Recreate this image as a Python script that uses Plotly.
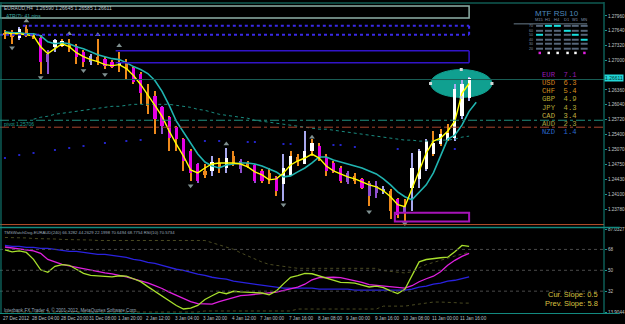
import plotly.graph_objects as go

# ---------------- DATA ----------------
idx = list(range(66))
opens = [1.27595,1.27595,1.27488,1.27681,1.27553,1.27488,1.26973,1.27295,1.27316,1.27359,
         1.27316,1.27188,1.27102,1.27080,1.27037,1.26973,1.26930,1.26930,1.26844,1.26715,
         1.26286,1.26221,1.25985,1.25771,1.25556,1.25298,1.25041,1.24761,1.24611,1.24611,
         1.24783,1.24675,1.24933,1.24826,1.24783,1.24740,1.24611,1.24568,1.24482,1.24332,
         1.24504,1.24912,1.24761,1.25041,1.25148,1.24912,1.24783,1.24675,1.24568,1.24504,
         1.24439,1.24353,1.24289,1.24225,1.24182,1.24010,1.23860,1.24246,1.24439,1.24654,
         1.24976,1.25191,1.25277,1.25320,1.25792,1.26178]
highs = [1.27660,1.27660,1.27724,1.27767,1.27574,1.27553,1.27230,1.27467,1.27467,1.27467,
         1.27359,1.27230,1.27145,1.27467,1.27080,1.27016,1.27188,1.27037,1.26865,1.26758,
         1.26479,1.26329,1.26007,1.25792,1.25577,1.25320,1.25083,1.24783,1.24761,1.24933,
         1.24890,1.25105,1.25041,1.24869,1.24826,1.24761,1.24654,1.24675,1.24504,1.24976,
         1.25041,1.24976,1.25470,1.25298,1.25212,1.24976,1.24826,1.24718,1.24611,1.24568,
         1.24461,1.24396,1.24396,1.24289,1.24225,1.24031,1.24010,1.24998,1.25083,1.25298,
         1.25470,1.25513,1.25620,1.26479,1.26608,1.26645]
lows = [1.27467,1.27359,1.27445,1.27510,1.27467,1.26715,1.26715,1.27188,1.27295,1.27188,
        1.26930,1.26865,1.26908,1.26908,1.26823,1.26844,1.26758,1.26586,1.26500,1.26050,
        1.25835,1.25406,1.25406,1.25041,1.25041,1.24611,1.24396,1.24353,1.24461,1.24504,
        1.24568,1.24568,1.24718,1.24568,1.24675,1.24353,1.24353,1.24332,1.24074,1.23967,
        1.24504,1.24718,1.24761,1.24933,1.24826,1.24504,1.24568,1.24353,1.24332,1.24332,
        1.24225,1.23860,1.24031,1.24117,1.23581,1.23602,1.23538,1.23752,1.24246,1.24611,
        1.24933,1.25148,1.25255,1.25255,1.25728,1.26114]
closes = [1.27553,1.27510,1.27681,1.27553,1.27488,1.26973,1.27145,1.27445,1.27424,1.27273,
          1.27080,1.26973,1.26973,1.26973,1.26887,1.26865,1.26908,1.26801,1.26543,1.26286,
          1.26007,1.25728,1.25577,1.25320,1.25298,1.24826,1.24568,1.24396,1.24525,1.24804,
          1.24675,1.24890,1.24783,1.24654,1.24718,1.24396,1.24396,1.24439,1.24182,1.24675,
          1.24933,1.24826,1.25041,1.25212,1.24890,1.24611,1.24590,1.24396,1.24375,1.24396,
          1.24246,1.24074,1.24139,1.24160,1.23752,1.23666,1.23709,1.24675,1.25041,1.25255,
          1.25212,1.25406,1.25427,1.26372,1.26500,1.26611]
body_codes = "oowoompwwo" "mmlommwomm" "ommmmmmmow" "owopommomw" "wowwmmmmpo" "mpplompwww" "wwwwww"
wick_codes = "ooloooploo" "oolooooooo" "oopoooopol" "olopopoool" "oolooooopo" "ooplooolll" "ooolll"

fast_ma = [1.27595,1.27574,1.27574,1.27553,1.27531,1.27295,1.27145,1.27252,1.27359,1.27295,
           1.27166,1.27080,1.27016,1.26973,1.26908,1.26887,1.26908,1.26823,1.26672,1.26479,
           1.26264,1.26028,1.25792,1.25470,1.25191,1.24933,1.24633,1.24568,1.24675,1.24761,
           1.24783,1.24783,1.24783,1.24761,1.24697,1.24590,1.24525,1.24418,1.24439,1.24568,
           1.24740,1.24826,1.24890,1.24976,1.24890,1.24718,1.24611,1.24547,1.24482,1.24439,
           1.24375,1.24311,1.24268,1.24182,1.24053,1.23881,1.23838,1.24225,1.24654,1.24998,
           1.25255,1.25320,1.25470,1.25685,1.26286,1.26500]
slow_ma = [1.27617,1.27595,1.27595,1.27574,1.27574,1.27531,1.27402,1.27359,1.27381,1.27359,
           1.27295,1.27252,1.27188,1.27123,1.27080,1.27037,1.27016,1.26951,1.26865,1.26801,
           1.26715,1.26565,1.26329,1.26028,1.25685,1.25448,1.25212,1.24976,1.24804,1.24718,
           1.24675,1.24740,1.24761,1.24783,1.24783,1.24761,1.24718,1.24654,1.24590,1.24482,
           1.24504,1.24590,1.24675,1.24783,1.24912,1.24912,1.24847,1.24804,1.24761,1.24718,
           1.24675,1.24611,1.24547,1.24439,1.24311,1.24160,1.24053,1.23988,1.24139,1.24311,
           1.24568,1.24933,1.25298,1.25384,1.25599,1.25899,1.26093]
long_ma_start = 4
long_ma = [1.25728,1.25771,1.25792,1.25835,1.25856,1.25878,1.25899,1.25921,1.25942,1.25964,
           1.25985,1.26007,1.26007,1.26028,1.26050,1.26050,1.26050,1.26050,1.26050,1.26050,
           1.26028,1.26007,1.25985,1.25942,1.25921,1.25878,1.25835,1.25813,1.25792,1.25771,
           1.25749,1.25706,1.25685,1.25663,1.25642,1.25620,1.25599,1.25577,1.25556,1.25534,
           1.25513,1.25513,1.25491,1.25470,1.25448,1.25427,1.25406,1.25384,1.25363,1.25341,
           1.25320,1.25298,1.25277,1.25277,1.25255,1.25255,1.25255,1.25277,1.25277,1.25298,
           1.25341,1.25363]
dots_idx = [0,2,4,7,9,11,14,17,19,28,30,34,35,39,40,46,47,49,55,63]
dots_val = [1.24890,1.24955,1.24998,1.25062,1.25105,1.25148,1.25212,1.25255,1.25277,1.25255,
            1.25255,1.25234,1.25234,1.25191,1.25191,1.25169,1.25169,1.25126,1.25083,1.25083]

frac_up_idx = [3,9,13,16,31,43]
frac_up_val = [1.27853,1.27574,1.27553,1.27316,1.25191,1.25341]
frac_dn_idx = [1,5,11,14,26,39,51,56]
frac_dn_val = [1.27273,1.26629,1.26780,1.26694,1.24289,1.23881,1.23731,1.23474]

price_ticks = [1.27960,1.27640,1.27320,1.27000,1.26360,1.26040,1.25720,
               1.25400,1.25070,1.24750,1.24430,1.24100,1.23780]
time_idx = [0,4,8,12,16,20,24,28,32,36,40,44,48,52,56,60,64]
time_labels = ["27 Dec 2012","28 Dec 04:00","28 Dec 20:00","31 Dec 08:00","1 Jan 20:00",
               "2 Jan 12:00","3 Jan 04:00","3 Jan 20:00","4 Jan 12:00","7 Jan 00:00",
               "7 Jan 16:00","8 Jan 08:00","9 Jan 00:00","9 Jan 16:00","10 Jan 08:00",
               "11 Jan 00:00","11 Jan 16:00"]

# levels / boxes (price)
top_box = [1.27917, 1.28175]
dotted_box = [1.27553, 1.27746]
solid_box = [1.26951, 1.27209]
magenta_box = [1.23516, 1.23709]
pivot_level = 1.25706
red_level = 1.25556
bid_level = 1.26586
low_level = 1.23452
ellipse = [59.6, 68.2, 1.26200, 1.26801]

# lower indicator
ind_blue = [71.4,70.6,70.6,69.7,69.7,68.9,68.9,68.0,67.1,66.3,66.3,65.4,64.6,63.7,63.7,62.9,62.0,61.1,59.4,58.6,
            56.9,56.0,54.3,52.6,50.9,50.0,48.3,46.6,45.7,44.0,43.1,42.3,40.6,39.7,38.9,38.0,37.1,36.3,35.4,34.6,
            34.6,34.6,34.6,34.6,33.7,33.7,33.7,33.7,33.7,32.9,32.9,32.9,32.9,32.9,32.9,32.9,32.9,33.7,35.4,36.3,
            38.0,38.9,40.6,41.4,43.1,44.3]
ind_magenta = [70.1,69.3,68.6,67.7,66.7,64.6,59.4,57.3,55.1,53.9,52.7,51.5,50.0,48.5,47.7,47.0,46.0,44.4,42.6,40.9,
               39.1,36.7,34.3,31.1,28.3,25.4,23.0,21.2,20.9,20.9,23.0,24.7,26.4,28.1,28.6,29.4,30.0,30.5,31.1,32.6,
               33.7,35.4,38.0,41.8,43.7,44.0,44.0,43.7,42.3,41.4,39.5,37.6,36.9,36.3,35.8,35.4,34.6,36.7,40.1,42.7,
               44.9,48.7,54.3,58.6,62.0,64.6]
ind_rsi = [67.6,65.9,66.7,65.4,59.4,50.4,48.3,53.4,54.9,54.3,50.9,47.3,45.7,45.1,44.4,44.4,45.3,44.9,42.7,40.2,
           35.9,31.7,28.1,23.6,19.6,16.6,17.4,19.7,24.8,28.0,31.1,29.8,31.9,31.4,31.1,30.6,30.4,28.9,32.2,38.3,
           44.0,45.3,47.4,47.0,45.2,43.3,41.3,39.6,39.3,38.9,37.3,35.6,36.3,35.1,32.2,29.9,33.6,45.3,57.3,59.3,
           60.3,60.8,61.3,65.9,71.4,70.6]
ind_upper = [78.3,78.3,77.9,77.9,77.4,77.4,77.0,77.0,76.6,76.6,76.6,76.1,76.1,75.7,75.7,75.7,75.7,75.7,75.7,75.7,
             75.7,75.7,75.7,75.7,75.7,75.7,75.7,76.1,75.7,73.8,71.9,70.1,68.1,65.1,62.4,59.8,57.1,55.1,54.1,53.4,
             52.6,51.7,51.7,51.7,51.7,51.7,51.7,51.7,51.7,51.7,51.7,51.7,51.7,49.7,49.1,48.4,47.7,48.7,52.3,54.9,
             56.9,58.6,60.3,62.3,64.0,65.4]
ind_lower = [14.0,14.0,14.0,14.0,14.0,14.0,14.0,14.0,14.0,14.0,14.0,14.0,14.0,14.0,14.0,14.0,14.0,14.0,14.0,14.0,
             14.0,14.0,14.0,14.0,14.0,14.0,14.0,14.0,14.9,14.9,14.9,14.9,14.9,14.9,14.9,14.9,14.9,14.9,14.9,14.9,
             14.9,16.6,16.6,16.6,16.6,16.6,16.6,16.6,16.6,16.6,16.6,16.6,16.6,19.1,19.1,19.1,19.1,20.0,20.9,21.7,
             22.6,22.6,22.6,22.1,21.7,21.7]
ind_levels = [68, 50, 32]
ind_ticks = [85.6, 68, 50, 32, 13.9]
ind_ticktext = ["87.0327", "68", "50", "32", "13.9044"]

currencies = ["EUR", "USD", "CHF", "GBP", "JPY", "CAD", "AUD", "NZD"]
strength = [7.1, 6.3, 5.4, 4.9, 4.3, 3.4, 2.3, 1.4]
cur_colors = ["#9a1ab4", "#d8801e", "#d8921e", "#b8a830", "#b4a836", "#c0b040", "#a8a040", "#2a6ad0"]

mtf_cols = ["M15", "H1", "H4", "D1", "W1", "MN"]
mtf_rows = ["70", "60", "50", "40", "30", "20"]
mtf_hi = [(0, 1), (0, 2), (1, 3), (2, 0), (2, 4), (3, 5)]
mtf_dots = ["#e020e0", "#ffffff", "#ffffff", "#ffffff", "#ffffff", "#e020e0"]

# ---------------- STYLE ----------------
COL = {"o": "#ee8a1c", "m": "#e600e6", "w": "#ffffff", "l": "#a8a8ee", "p": "#9050d0"}
W, H = 609.0, 314.0
def PX(x): return x / W
def PY(y): return 1 - y / H

fig = go.Figure()

# wicks
fig.add_trace(go.Bar(x=idx, y=[h - l for h, l in zip(highs, lows)], base=lows, width=0.15,
                     marker=dict(color=[COL[c] for c in wick_codes], line=dict(width=0)),
                     hoverinfo="skip"))
# bodies
fig.add_trace(go.Bar(x=idx, y=[max(abs(c - o), 0.00005) for o, c in zip(opens, closes)],
                     base=[min(o, c) for o, c in zip(opens, closes)], width=0.45,
                     marker=dict(color=[COL[c] for c in body_codes], line=dict(width=0)),
                     hoverinfo="skip"))
# MAs
fig.add_trace(go.Scatter(x=list(range(long_ma_start, long_ma_start + len(long_ma))), y=long_ma,
                         mode="lines", line=dict(color="#1a8c80", width=1, dash="dot")))
fig.add_trace(go.Scatter(x=dots_idx, y=dots_val, mode="markers",
                         marker=dict(color="#2424c8", size=2, symbol="square")))
fig.add_trace(go.Scatter(x=list(range(len(slow_ma))), y=slow_ma, mode="lines",
                         line=dict(color="#20b4b0", width=1.6)))
fig.add_trace(go.Scatter(x=idx, y=fast_ma, mode="lines", line=dict(color="#ffff00", width=1.4)))
# fractals
fig.add_trace(go.Scatter(x=frac_up_idx, y=frac_up_val, mode="markers",
                         marker=dict(symbol="triangle-up", size=5, color="#7f9090")))
fig.add_trace(go.Scatter(x=frac_dn_idx, y=frac_dn_val, mode="markers",
                         marker=dict(symbol="triangle-down", size=5, color="#7f9090")))
# ellipse handles
ex = [ellipse[0], ellipse[1], (ellipse[0] + ellipse[1]) / 2, (ellipse[0] + ellipse[1]) / 2]
ey = [(ellipse[2] + ellipse[3]) / 2] * 2 + [ellipse[3], ellipse[2]]
fig.add_trace(go.Scatter(x=ex, y=ey, mode="markers",
                         marker=dict(symbol="square", size=3, color="#d0d8d8")))

# lower panel
fig.add_trace(go.Scatter(x=idx, y=ind_upper, yaxis="y2", mode="lines",
                         line=dict(color="#4a4a22", width=1, dash="dot")))
fig.add_trace(go.Scatter(x=idx, y=ind_lower, yaxis="y2", mode="lines",
                         line=dict(color="#4a4a22", width=1, dash="dot")))
fig.add_trace(go.Scatter(x=idx, y=ind_blue, yaxis="y2", mode="lines",
                         line=dict(color="#2a22e0", width=1.3)))
fig.add_trace(go.Scatter(x=idx, y=ind_magenta, yaxis="y2", mode="lines",
                         line=dict(color="#e020e0", width=1.3)))
fig.add_trace(go.Scatter(x=idx, y=ind_rsi, yaxis="y2", mode="lines",
                         line=dict(color="#a8e02c", width=1.3)))

shapes = []
xl, xr = -0.694, 65
# boxes
shapes.append(dict(type="rect", xref="x", yref="y", x0=xl, x1=xr, y0=top_box[0], y1=top_box[1],
                   line=dict(color="#8fb0a8", width=1.5)))
shapes.append(dict(type="line", xref="x", yref="y", x0=2.5, x1=xr, y0=dotted_box[1], y1=dotted_box[1],
                   line=dict(color="#3a2ae8", width=2, dash="dot")))
shapes.append(dict(type="line", xref="x", yref="y", x0=xl, x1=xr, y0=dotted_box[0], y1=dotted_box[0],
                   line=dict(color="#3a2ae8", width=2, dash="dot")))
shapes.append(dict(type="line", xref="x", yref="y", x0=xr, x1=xr, y0=dotted_box[0], y1=dotted_box[1],
                   line=dict(color="#3a2ae8", width=2, dash="dot")))
for yv in solid_box:
    shapes.append(dict(type="line", xref="x", yref="y", x0=15.5, x1=xr, y0=yv, y1=yv,
                       line=dict(color="#3214c8", width=1.5)))
shapes.append(dict(type="line", xref="x", yref="y", x0=xr, x1=xr, y0=solid_box[0], y1=solid_box[1],
                   line=dict(color="#3214c8", width=1.5)))
shapes.append(dict(type="rect", xref="x", yref="y", x0=54.6, x1=xr, y0=magenta_box[0], y1=magenta_box[1],
                   line=dict(color="#a614b8", width=2)))
# levels
shapes.append(dict(type="line", xref="paper", yref="y", x0=0, x1=1, y0=bid_level, y1=bid_level,
                   line=dict(color="#1a5e56", width=1)))
shapes.append(dict(type="line", xref="paper", yref="y", x0=0, x1=1, y0=pivot_level, y1=pivot_level,
                   line=dict(color="#1f8f7f", width=1, dash="dashdot")))
shapes.append(dict(type="line", xref="paper", yref="y", x0=0, x1=1, y0=red_level, y1=red_level,
                   line=dict(color="#a8442e", width=1, dash="dashdot")))
shapes.append(dict(type="line", xref="paper", yref="y", x0=0, x1=1, y0=low_level, y1=low_level,
                   line=dict(color="#b8502c", width=1)))
# ellipse
shapes.append(dict(type="circle", xref="x", yref="y", x0=ellipse[0], x1=ellipse[1], y0=ellipse[2],
                   y1=ellipse[3], fillcolor="#10a090", line=dict(color="#10a090", width=1), layer="below"))
# indicator levels
for lv in ind_levels:
    shapes.append(dict(type="line", xref="paper", yref="y2", x0=0, x1=1, y0=lv, y1=lv,
                       line=dict(color="#4a4a4a", width=1, dash="dot")))
# borders
bc = "#138a80"
shapes.append(dict(type="line", xref="paper", yref="paper", x0=PX(1), x1=PX(1), y0=0, y1=1, line=dict(color=bc, width=1)))
shapes.append(dict(type="line", xref="paper", yref="paper", x0=1, x1=1, y0=0, y1=1, line=dict(color=bc, width=1)))
shapes.append(dict(type="line", xref="paper", yref="paper", x0=0, x1=625 / W, y0=PY(313.5), y1=PY(313.5), line=dict(color=bc, width=1)))
shapes.append(dict(type="line", xref="paper", yref="paper", x0=0, x1=625 / W, y0=PY(227), y1=PY(227), line=dict(color=bc, width=1.5)))
shapes.append(dict(type="line", xref="paper", yref="paper", x0=0, x1=1, y0=PY(1), y1=PY(1), line=dict(color="#0f5a52", width=1.5)))

# MTF RSI grid
mtf_x = [544, 553, 562, 572, 580, 589]
mtf_y = [24, 29, 33, 38, 42, 47]
shapes.append(dict(type="line", xref="paper", yref="paper", x0=PX(518), x1=PX(592), y0=PY(22), y1=PY(22),
                   line=dict(color="#6a7c8c", width=1)))
for r, yy in enumerate(mtf_y):
    for c, xx in enumerate(mtf_x):
        colr = "#18e0e0" if (r, c) in mtf_hi else "#56667a"
        shapes.append(dict(type="rect", xref="paper", yref="paper", x0=PX(xx - 3.5), x1=PX(xx + 3.5),
                           y0=PY(yy + 1), y1=PY(yy - 1), fillcolor=colr, line=dict(width=0)))
for c, xx in enumerate(mtf_x):
    shapes.append(dict(type="rect", xref="paper", yref="paper", x0=PX(xx - 1), x1=PX(xx + 1.5),
                       y0=PY(52.5), y1=PY(50), fillcolor=mtf_dots[c], line=dict(width=0)))

ann = []
def txt(x, y, s, size, color, family="Liberation Sans", xa="left"):
    ann.append(dict(x=PX(x), y=PY(y), xref="paper", yref="paper", text=s, showarrow=False,
                    xanchor=xa, yanchor="middle", borderpad=0, font=dict(size=size, color=color, family=family)))

txt(3, 6, "EURAUD,H4  1.26590 1.26645 1.26585 1.26611", 5, "#b8c4cc")
txt(5, 14, "ATR(7): 41 pips", 5, "#3aa8a0")
txt(3, 123, "pivot 1.25706", 5, "#1f9f8f")
txt(538, 12, "MTF RSI 10", 8, "#4d86b8")
for c, s in enumerate(mtf_cols):
    txt(mtf_x[c], 18, s, 4, "#8090a8", xa="center")
for r, s in enumerate(mtf_rows):
    txt(535, mtf_y[r], s, 3.5, "#8090a8", xa="center")
for k, (cname, val) in enumerate(zip(currencies, strength)):
    yy = 73 + k * 8.3
    txt(545, yy, f"{cname}  {val:.1f}", 7.2, cur_colors[k], family="Liberation Mono")
txt(3, 232, "TMSWatchDog-EURAUD(240) 66.3282 44.2629 22.1998 70.6494 68.7754 RSI(10) 70.5734", 4.2, "#9aaabb")
txt(3, 310, "Interbank FX Trader 4, \u00a9 2001-2012, MetaQuotes Software Corp.", 4.6, "#9aaabb")
txt(604, 294, "Cur. Slope: 0.5", 7.5, "#d8c040", xa="right")
txt(604, 303, "Prev. Slope: 5.8", 7.5, "#d8c040", xa="right")

for i, s in zip(time_idx, time_labels):
    ann.append(dict(x=i - 0.5, y=PY(318.5), xref="x", yref="paper", text=s, showarrow=False,
                    xanchor="left", yanchor="middle", font=dict(size=4.6, color="#b8c0c8", family="Liberation Sans")))
# current price box
ann.append(dict(x=1.0, y=closes[-1], xref="paper", yref="y", text=f"{closes[-1]:.5f}", showarrow=False,
                xanchor="left", yanchor="middle", bgcolor="#22d8d8", borderpad=0,
                font=dict(size=5, color="#003030", family="Liberation Sans")))

fig.update_layout(
    width=625, height=324, margin=dict(l=0, r=16, t=0, b=10),
    paper_bgcolor="#000000", plot_bgcolor="#000000", showlegend=False,
    barmode="overlay", bargap=0, shapes=shapes, annotations=ann,
    xaxis=dict(range=[-0.694, 83.89], visible=False, fixedrange=True),
    yaxis=dict(domain=[1 - 226 / H, 1], range=[1.23409, 1.28261], side="right", anchor="x",
               showgrid=False, zeroline=False, showline=False, tickmode="array",
               tickvals=price_ticks, ticktext=[f"{v:.5f}" for v in price_ticks],
               ticks="outside", ticklen=2, tickcolor="#1a9a90",
               tickfont=dict(size=4.6, color="#c0c8c8", family="Liberation Sans")),
    yaxis2=dict(domain=[0, 1 - 228 / H], range=[12.3, 86.0], side="right", anchor="x",
                showgrid=False, zeroline=False, showline=False, tickmode="array",
                tickvals=ind_ticks, ticktext=ind_ticktext, ticks="outside", ticklen=2,
                tickcolor="#1a9a90", tickfont=dict(size=4.6, color="#c0c8c8", family="Liberation Sans")),
)
fig.write_html("out.html")
